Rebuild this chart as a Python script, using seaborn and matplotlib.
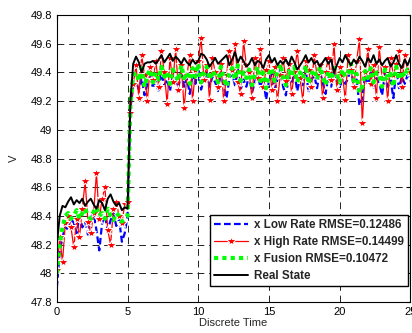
import numpy as np
import pandas as pd
import matplotlib
matplotlib.use("Agg")
import matplotlib.pyplot as plt
import seaborn as sns

# discrete time, step 0.2
time = np.round(np.arange(126) * 0.2, 1)

real_state = [
    48.20, 48.40, 48.47, 48.46, 48.50, 48.53, 48.48, 48.51, 48.49, 48.52,
    48.47, 48.50, 48.52, 48.48, 48.45, 48.51, 48.49, 48.44, 48.52, 48.55,
    48.50, 48.47, 48.49, 48.44, 48.46, 48.45,
    49.20, 49.46, 49.51, 49.47, 49.40, 49.46, 49.47, 49.47, 49.48, 49.46,
    49.49, 49.52, 49.47, 49.50, 49.53, 49.48, 49.51, 49.49, 49.46, 49.50,
    49.47, 49.45, 49.49, 49.46, 49.48, 49.53, 49.52, 49.49, 49.44, 49.47,
    49.50, 49.46, 49.48, 49.50, 49.52, 49.45, 49.49, 49.54, 49.47, 49.51,
    49.48, 49.44, 49.46, 49.50, 49.45, 49.48, 49.47, 49.43, 49.49, 49.52,
    49.47, 49.50, 49.45, 49.48, 49.46, 49.49, 49.45, 49.51, 49.47, 49.42,
    49.45, 49.48, 49.52, 49.47, 49.50, 49.46, 49.48, 49.44, 49.47, 49.50,
    49.46, 49.49, 49.40, 49.45, 49.50, 49.47, 49.52, 49.48, 49.45, 49.49,
    49.46, 49.51, 49.48, 49.44, 49.50, 49.47, 49.52, 49.46, 49.49, 49.45,
    49.48, 49.50, 49.44, 49.47, 49.52, 49.46, 49.43, 49.49, 49.45, 49.50,
]

low_rate = [
    47.90, 48.15, 48.25, 48.33, 48.30, 48.38, 48.35, 48.28, 48.40, 48.32,
    48.36, 48.27, 48.38, 48.42, 48.30, 48.16, 48.35, 48.40, 48.30, 48.37,
    48.42, 48.33, 48.38, 48.22, 48.28, 48.40,
    49.15, 49.30, 49.33, 49.28, 49.36, 49.24, 49.32, 49.38, 49.29, 49.34,
    49.26, 49.40, 49.31, 49.35, 49.27, 49.38, 49.33, 49.29, 49.42, 49.30,
    49.36, 49.25, 49.39, 49.32, 49.44, 49.28, 49.35, 49.40, 49.30, 49.37,
    49.33, 49.27, 49.41, 49.30, 49.22, 49.36, 49.39, 49.31, 49.42, 49.28,
    49.35, 49.30, 49.38, 49.26, 49.33, 49.40, 49.29, 49.36, 49.21, 49.34,
    49.39, 49.28, 49.35, 49.43, 49.30, 49.24, 49.37, 49.32, 49.40, 49.27,
    49.36, 49.31, 49.42, 49.26, 49.35, 49.38, 49.29, 49.41, 49.33, 49.25,
    49.37, 49.30, 49.40, 49.34, 49.27, 49.39, 49.32, 49.36, 49.44, 49.29,
    49.35, 49.17, 49.22, 49.38, 49.31, 49.40, 49.28, 49.36, 49.33, 49.24,
    49.39, 49.30, 49.35, 49.22, 49.41, 49.29, 49.37, 49.32, 49.38, 49.34,
]

high_rate = [
    48.02, 48.25, 48.08, 48.35, 48.40, 48.32, 48.18, 48.38, 48.25, 48.45,
    48.64, 48.36, 48.28, 48.42, 48.70, 48.38, 48.52, 48.60, 48.30, 48.20,
    48.45, 48.50, 48.40, 48.35, 48.48, 48.50,
    49.12, 49.32, 49.45, 49.22, 49.52, 49.38, 49.20, 49.44, 49.35, 49.48,
    49.30, 49.55, 49.40, 49.18, 49.50, 49.33, 49.56, 49.28, 49.45, 49.15,
    49.38, 49.52, 49.20, 49.42, 49.48, 49.64, 49.35, 49.45, 49.21, 49.50,
    49.40, 49.30, 49.46, 49.20, 49.38, 49.55, 49.42, 49.60, 49.33, 49.25,
    49.62, 49.45, 49.40, 49.22, 49.50, 49.36, 49.56, 49.30, 49.42, 49.48,
    49.28, 49.44, 49.20, 49.38, 49.50, 49.34, 49.46, 49.25, 49.40, 49.55,
    49.36, 49.20, 49.48, 49.42, 49.30, 49.52, 49.38, 49.45, 49.22, 49.40,
    49.50, 49.35, 49.60, 49.28, 49.44, 49.38, 49.21, 49.52, 49.42, 49.30,
    49.48, 49.63, 49.05, 49.40, 49.56, 49.32, 49.45, 49.22, 49.58, 49.36,
    49.44, 49.20, 49.50, 49.38, 49.46, 49.55, 49.30, 49.52, 49.42, 49.40,
]

fusion = [
    48.00, 48.20, 48.32, 48.40, 48.42, 48.38, 48.40, 48.44, 48.38, 48.42,
    48.45, 48.40, 48.38, 48.43, 48.46, 48.40, 48.42, 48.38, 48.45, 48.40,
    48.37, 48.42, 48.40, 48.36, 48.38, 48.40,
    49.18, 49.38, 49.40, 49.34, 49.43, 49.30, 49.38, 49.42, 49.33, 49.40,
    49.35, 49.44, 49.37, 49.40, 49.32, 49.42, 49.38, 49.34, 49.45, 49.36,
    49.40, 49.32, 49.43, 49.37, 49.46, 49.33, 49.40, 49.44, 49.35, 49.41,
    49.38, 49.33, 49.44, 49.36, 49.30, 49.40, 49.43, 49.35, 49.45, 49.34,
    49.40, 49.36, 49.42, 49.31, 49.38, 49.44, 49.34, 49.40, 49.29, 49.39,
    49.43, 49.34, 49.40, 49.46, 49.36, 49.31, 49.41, 49.37, 49.44, 49.33,
    49.40, 49.36, 49.45, 49.32, 49.39, 49.42, 49.35, 49.44, 49.38, 49.31,
    49.41, 49.35, 49.43, 49.39, 49.33, 49.42, 49.37, 49.40, 49.46, 49.34,
    49.39, 49.26, 49.30, 49.41, 49.36, 49.43, 49.33, 49.40, 49.38, 49.30,
    49.42, 49.36, 49.39, 49.30, 49.44, 49.35, 49.41, 49.37, 49.42, 49.40,
]

labels = ["x Low Rate RMSE=0.12486", "x High Rate RMSE=0.14499",
          "x Fusion RMSE=0.10472", "Real State"]
y_ticks = [47.8, 48.0, 48.2, 48.4, 48.6, 48.8, 49.0, 49.2, 49.4, 49.6, 49.8]
y_tick_labels = ["47.8", "48", "48.2", "48.4", "48.6", "48.8", "49",
                 "49.2", "49.4", "49.6", "49.8"]
x_ticks = [0, 5, 10, 15, 20, 25]

df = pd.DataFrame({"t": time, "low": low_rate, "high": high_rate,
                   "fusion": fusion, "real": real_state})

sns.set_style("white")
plt.rcParams["font.family"] = ["Liberation Sans", "DejaVu Sans"]

fig = plt.figure(figsize=(4.12, 3.33), dpi=100)
ax = fig.add_axes([0.138, 0.093, 0.858, 0.862])

sns.lineplot(data=df, x="t", y="low", ax=ax, color="#0000ff",
             linestyle=(0, (3, 1.5)), linewidth=1.6, label=labels[0])
sns.lineplot(data=df, x="t", y="high", ax=ax, color="#ff0000",
             linewidth=0.9, marker="*", markersize=7.5, markeredgewidth=0.8,
             label=labels[1])
sns.lineplot(data=df, x="t", y="fusion", ax=ax, color="#00ff00",
             linestyle=(0, (1, 1)), linewidth=3, label=labels[2])
sns.lineplot(data=df, x="t", y="real", ax=ax, color="black",
             linewidth=1.4, label=labels[3])

ax.set_xlim(0, 25)
ax.set_ylim(47.8, 49.8)
ax.set_xticks(x_ticks)
ax.set_yticks(y_ticks)
ax.set_yticklabels(y_tick_labels)
ax.grid(True, color="#222222", linestyle=(0, (7, 5)), linewidth=0.7)
ax.tick_params(direction="in", labelsize=8, length=3, top=True, right=True,
               colors="black")
for s in ax.spines.values():
    s.set_color("black")
    s.set_linewidth(0.8)
ax.set_xlabel("Discrete Time", fontsize=8, labelpad=1)
ax.set_ylabel("V", fontsize=8, labelpad=8)

leg = ax.legend(loc="lower right", bbox_to_anchor=(0.992, 0.055),
                borderaxespad=0, fontsize=8.4, frameon=True, fancybox=False,
                borderpad=0.35, labelspacing=0.43, handlelength=2.9,
                handletextpad=0.45)
leg.get_frame().set_edgecolor("black")
leg.get_frame().set_linewidth(1.0)
leg.get_frame().set_alpha(1.0)
for txt in leg.get_texts():
    txt.set_fontweight("bold")

fig.savefig("out.png", dpi=100)
